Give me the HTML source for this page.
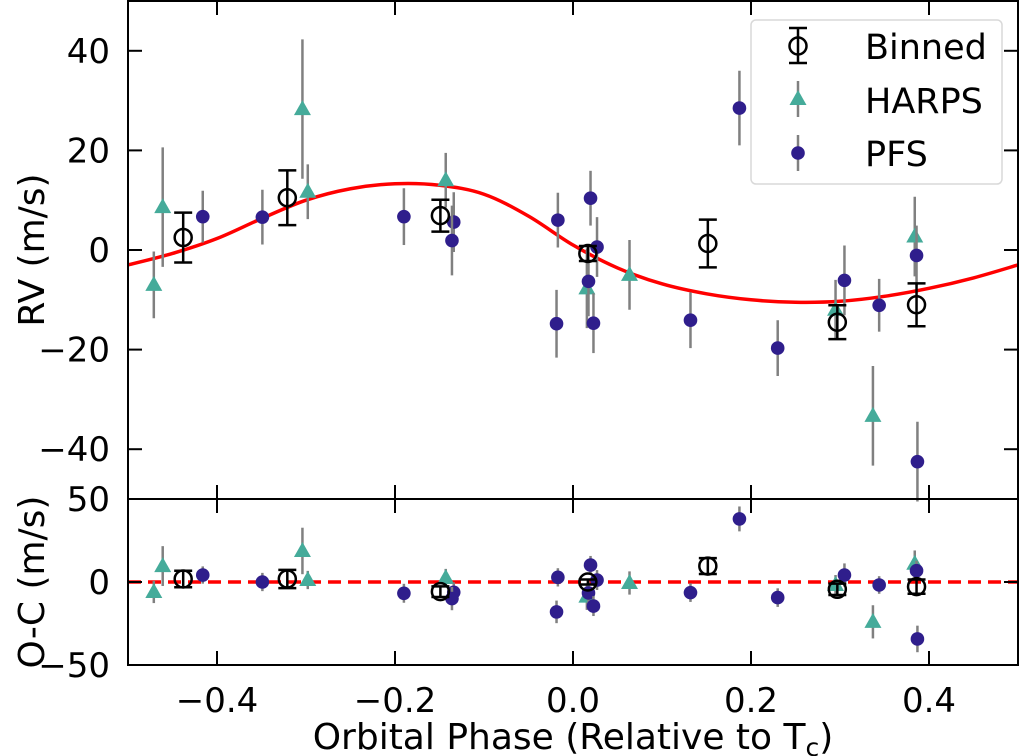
<!DOCTYPE html>
<html><head><meta charset="utf-8"><style>
html,body{margin:0;padding:0;background:#fff;}
svg{display:block;font-family:"DejaVu Sans","Liberation Sans",sans-serif;}
</style></head><body>
<svg id="chart" width="1021" height="756" viewBox="0 0 1021 756" xmlns="http://www.w3.org/2000/svg"></svg>
<script>
// ---- data ----
const harpsPhase = [-0.471,-0.461,-0.304,-0.298,-0.143,0.0156,0.0635,0.295,0.337,0.384];
const harpsRV    = [-7,8.6,28.3,11.7,14,-7.7,-5,-12,-33.3,2.7];
const harpsErr   = [6.7,12,14,5.5,5.5,8,7,6,10,8];
const harpsRes   = [-6,9.6,18.7,1.2,2.4,-8.8,-0.6,-1.8,-24,11];

const pfsPhase = [-0.416,-0.349,-0.190,-0.134,-0.136,-0.017,-0.0185,0.187,0.0197,0.027,0.0174,0.023,0.132,0.230,0.305,0.344,0.386,0.387];
const pfsRV    = [6.7,6.6,6.7,5.6,1.9,6,-14.8,28.5,10.4,0.6,-6.3,-14.7,-14.1,-19.7,-6.1,-11.1,-1.1,-42.5];
const pfsErr   = [5.2,5.5,5.7,6,7,5.5,6.8,7.5,5.5,6,7,6,5.6,5.6,7,5.3,6,8];
const pfsRes   = [4.2,0,-6.8,-6.2,-10,2.8,-18,38,10.2,1.2,-6.6,-14.5,-6.4,-9.4,4.2,-1.8,6.8,-34.3];

const binPhase = [-0.438,-0.321,-0.149,0.0167,0.1515,0.297,0.386];
const binRV    = [2.5,10.5,6.9,-0.7,1.3,-14.5,-11];
const binErr   = [5,5.5,3.2,1.5,4.8,3.4,4.3];
const binRes   = [1.8,1.8,-5.8,0,9.6,-4.4,-2.8];

const modelPhase = [-0.5,-0.45,-0.4,-0.35,-0.3,-0.25,-0.2,-0.15,-0.1,-0.05,0,0.05,0.1,0.15,0.2,0.25,0.3,0.35,0.4,0.45,0.5];
const modelRV    = [-3,-0.7,2.3,6.3,10,12.3,13.3,13,11.2,6.8,1.0,-3.6,-6.8,-8.8,-10,-10.5,-10.3,-9.3,-7.7,-5.6,-3];

const xTicks = [-0.4,-0.2,0.0,0.2,0.4];
const xTickLabels = ["\u22120.4","\u22120.2","0.0","0.2","0.4"];
const yTopTicks = [40,20,0,-20,-40];
const yTopLabels = ["40","20","0","\u221220","\u221240"];
const yBotTicks = [50,0,-50];
const yBotLabels = ["50","0","\u221250"];

// ---- layout ----
const L=128, R=1018, T1=1, B1=499, T2=499, B2=665;
const TICKFS=34;
const X = p => L + (p+0.5)*(R-L);
const Y1 = v => T1 + (50-v)/100*(B1-T1);
const Y2 = v => T2 + (50-v)/100*(B2-T2);
const svg = document.getElementById('chart');
const NS='http://www.w3.org/2000/svg';
function mk(tag, attrs, parent){const e=document.createElementNS(NS,tag);for(const k in attrs)e.setAttribute(k,attrs[k]);(parent||svg).appendChild(e);return e;}

function panel(name, Y, yT, yL, top, bot, pRV, hRV, bRV, isRes){
  const g = mk('g',{});
  
  
  if(!isRes){
    const pts = modelPhase.map((p,i)=>[X(p),Y(modelRV[i])]);
    let d='M'+pts[0][0]+','+pts[0][1];
    for(let i=0;i<pts.length-1;i++){
      const p0=pts[Math.max(i-1,0)],p1=pts[i],p2=pts[i+1],p3=pts[Math.min(i+2,pts.length-1)];
      const c1=[p1[0]+(p2[0]-p0[0])/6,p1[1]+(p2[1]-p0[1])/6];
      const c2=[p2[0]-(p3[0]-p1[0])/6,p2[1]-(p3[1]-p1[1])/6];
      d+=` C${c1[0]},${c1[1]} ${c2[0]},${c2[1]} ${p2[0]},${p2[1]}`;
    }
    const m=mk('path',{d:d,fill:'none',stroke:'#ff0000','stroke-width':3.5},g);
    
    
  } else {
    const z=mk('line',{x1:L,x2:R,y1:Y(0),y2:Y(0),stroke:'#ff0000','stroke-width':3.5,'stroke-dasharray':'13,7'},g);
    
    
  }
  harpsPhase.forEach((p,i)=>{
    const x=X(p),y=Y(hRV[i]),e=harpsErr[i];
    const eb=mk('line',{x1:x,x2:x,y1:Y(hRV[i]+e),y2:Y(hRV[i]-e),stroke:'#808080','stroke-width':2.5},g);
    
    
    const t=mk('polygon',{points:`${x},${y-9} ${x-8.5},${y+6} ${x+8.5},${y+6}`,fill:'#45ab9a'},g);
    
    
  });
  pfsPhase.forEach((p,i)=>{
    const x=X(p),y=Y(pRV[i]),e=pfsErr[i];
    const eb=mk('line',{x1:x,x2:x,y1:Y(pRV[i]+e),y2:Y(pRV[i]-e),stroke:'#808080','stroke-width':2.5},g);
    
    
    const c=mk('circle',{cx:x,cy:y,r:6.8,fill:'#2f1e8c'},g);
    
    
  });
  binPhase.forEach((p,i)=>{
    const x=X(p),y=Y(bRV[i]),e=binErr[i];
    const y0=Y(bRV[i]+e),y1=Y(bRV[i]-e);
    const eg=mk('g',{stroke:'#000','stroke-width':2.5,fill:'none'},g);
    
    
    mk('line',{x1:x,x2:x,y1:y0,y2:y1},eg);
    mk('line',{x1:x-9,x2:x+9,y1:y0,y2:y0},eg);
    mk('line',{x1:x-9,x2:x+9,y1:y1,y2:y1},eg);
    mk('circle',{cx:x,cy:y,r:8.5},eg);
  });
  const fr=mk('rect',{x:L,y:top,width:R-L,height:bot-top,fill:'none',stroke:'#000','stroke-width':2},g);
  
  
  yT.forEach((v,i)=>{
    const y=Y(v);
    mk('line',{x1:L,x2:L+14,y1:y,y2:y,stroke:'#000','stroke-width':2},g);
    mk('line',{x1:R,x2:R-14,y1:y,y2:y,stroke:'#000','stroke-width':2},g);
    const t=mk('text',{x:110,y:y+12,'text-anchor':'end','font-size':TICKFS,fill:'#000'},g);
    t.textContent=yL[i];
    
    
  });
  xTicks.forEach(p=>{
    const x=X(p);
    mk('line',{x1:x,x2:x,y1:top,y2:top+14,stroke:'#000','stroke-width':2},g);
    mk('line',{x1:x,x2:x,y1:bot,y2:bot-14,stroke:'#000','stroke-width':2},g);
  });
}
panel('rv-panel', Y1, yTopTicks, yTopLabels, T1, B1, pfsRV, harpsRV, binRV, false);
panel('residual-panel', Y2, yBotTicks, yBotLabels, T2, B2, pfsRes, harpsRes, binRes, true);

xTicks.forEach((p,i)=>{
  const t=mk('text',{x:X(p),y:712,'text-anchor':'middle','font-size':TICKFS,fill:'#000'});
  t.textContent=xTickLabels[i];
  
  
});

const xl=mk('text',{x:573,y:749,'text-anchor':'middle','font-size':36,fill:'#000'});
xl.innerHTML='Orbital Phase (Relative to T<tspan font-size="25" dy="7">c</tspan><tspan dy="-7">)</tspan>';


const yt1=mk('text',{x:0,y:0,'text-anchor':'middle','font-size':36,fill:'#000',transform:'translate(44,250) rotate(-90)'});
yt1.textContent='RV (m/s)';


const yt2=mk('text',{x:0,y:0,'text-anchor':'middle','font-size':36,fill:'#000',transform:'translate(44,582) rotate(-90)'});
yt2.textContent='O-C (m/s)';



const lg=mk('g',{});


mk('rect',{x:751,y:20,width:251,height:164,rx:5,fill:'#fff','fill-opacity':0.85,stroke:'#d9d9d9','stroke-width':1.5},lg);
const mx=798;
const b=mk('g',{stroke:'#000','stroke-width':2.5,fill:'none'},lg);


mk('line',{x1:mx,x2:mx,y1:28,y2:63},b);mk('line',{x1:mx-9,x2:mx+9,y1:28,y2:28},b);mk('line',{x1:mx-9,x2:mx+9,y1:63,y2:63},b);mk('circle',{cx:mx,cy:46,r:8.5},b);
mk('line',{x1:mx,x2:mx,y1:81,y2:117,stroke:'#808080','stroke-width':2.5},lg);
const ht=mk('polygon',{points:`${mx},90 ${mx-8.5},105 ${mx+8.5},105`,fill:'#45ab9a'},lg);


mk('line',{x1:mx,x2:mx,y1:135,y2:171,stroke:'#808080','stroke-width':2.5},lg);
const pc=mk('circle',{cx:mx,cy:153,r:6.8,fill:'#2f1e8c'},lg);


[['Binned',59],['HARPS',113],['PFS',166]].forEach(([s,y])=>{
  const t=mk('text',{x:865,y:y,'font-size':35,fill:'#000'},lg);
  t.textContent=s;
  
  
});
</script>
</body></html>
